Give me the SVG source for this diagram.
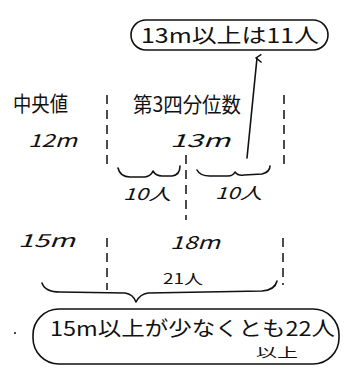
<svg xmlns="http://www.w3.org/2000/svg" width="350" height="371" viewBox="0 0 350 371">
<style>
.t{font-family:"Noto Sans CJK JP","Liberation Sans",sans-serif;fill:#111;}
.ln{fill:none;stroke:#111;stroke-width:1.6;stroke-linecap:round;stroke-linejoin:round;}
.dash{fill:none;stroke:#111;stroke-width:1.5;stroke-dasharray:9 6;}
</style>
<defs>
<marker id="ah" viewBox="0 0 10 10" refX="5" refY="2" markerWidth="10" markerHeight="10" orient="auto-start-reverse" markerUnits="userSpaceOnUse">
<path d="M1,7 L5,1 L9,6" fill="none" stroke="#111" stroke-width="1.5"/>
</marker>
</defs>
<rect width="350" height="371" fill="#fff"/>

<g id="top-bubble">
<rect class="ln" x="131" y="20" width="197" height="30" rx="15"/>
<text class="t" x="141" y="43" font-size="20" textLength="178" lengthAdjust="spacingAndGlyphs">13m以上は11人</text>
</g>

<g id="labels">
<text class="t" x="13" y="111" font-size="21" textLength="55" lengthAdjust="spacingAndGlyphs">中央値</text>
<text class="t" x="133" y="112" font-size="21" textLength="108" lengthAdjust="spacingAndGlyphs">第3四分位数</text>
<text class="t" x="28" y="147" font-size="18" textLength="49" lengthAdjust="spacingAndGlyphs" font-style="italic">12m</text>
<text class="t" x="170" y="147" font-size="18" textLength="60" lengthAdjust="spacingAndGlyphs" font-style="italic">13m</text>
<text class="t" x="123" y="200" font-size="16" textLength="48" lengthAdjust="spacingAndGlyphs" font-style="italic">10人</text>
<text class="t" x="215" y="199" font-size="16" textLength="47" lengthAdjust="spacingAndGlyphs" font-style="italic">10人</text>
<text class="t" x="18" y="247" font-size="18" textLength="57" lengthAdjust="spacingAndGlyphs" font-style="italic">15m</text>
<text class="t" x="170" y="249" font-size="18" textLength="50" lengthAdjust="spacingAndGlyphs" font-style="italic">18m</text>
<text class="t" x="163" y="284" font-size="14" textLength="40" lengthAdjust="spacingAndGlyphs">21人</text>
</g>

<g id="connectors">
<line class="dash" x1="107" y1="95" x2="107" y2="167"/>
<line class="dash" x1="107" y1="238" x2="107" y2="290"/>
<line class="dash" x1="284" y1="95" x2="284" y2="167"/>
<line class="dash" x1="283" y1="238" x2="283" y2="285"/>
<line class="dash" x1="186" y1="155" x2="186" y2="220"/>
<path class="ln" d="M247,158 L257,58" marker-end="url(#ah)"/>
<path class="ln" d="M118,168 Q120,177 130,177 L145,177 Q151,176 153,171 Q156,176 162,176 L172,176 Q180,175 180,166"/>
<path class="ln" d="M197,170 Q200,176 210,176 L228,176 Q233,176 235,172 Q238,176 244,175 L262,174 Q270,172 270,166"/>
<path class="ln" d="M42,283 Q45,292 60,292 L125,293 Q133,294 136,302 Q140,294 148,293 L262,291 Q275,290 277,281"/>
</g>

<g id="bottom-bubble">
<rect class="ln" x="33" y="309" width="306" height="55" rx="26"/>
<text class="t" x="50" y="336" font-size="20" textLength="285" lengthAdjust="spacingAndGlyphs">15m以上が少なくとも22人</text>
<text class="t" x="256" y="357" font-size="13" textLength="42" lengthAdjust="spacingAndGlyphs">以上</text>
</g>
<circle cx="15" cy="333" r="1" fill="#111"/>
</svg>
